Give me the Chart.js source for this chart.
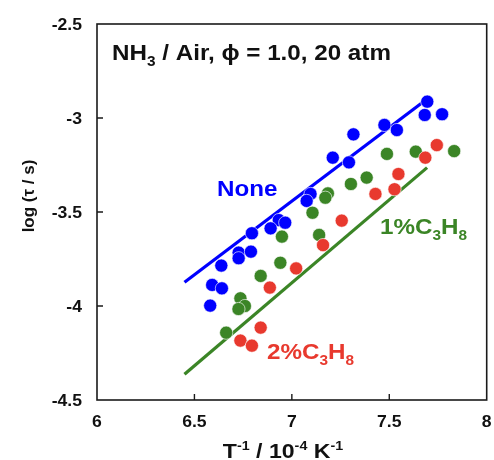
<!DOCTYPE html>
<html>
<head>
<meta charset="utf-8">
<script src="https://cdn.jsdelivr.net/npm/chart.js@4.4.1/dist/chart.umd.min.js"></script>
<style>
  html, body { margin: 0; padding: 0; background: #fff; }
  #c { display: block; }
</style>
</head>
<body>
<canvas id="c" width="494" height="460"></canvas>
<script>
// x = 1/T (10^-4 K^-1), y = log(tau / s)
var noneX = [7.695, 7.682, 7.771, 7.475, 7.539, 7.316, 7.210, 7.293, 7.096, 7.076, 6.933,
             6.966, 6.891, 6.795, 6.727, 6.727, 6.790, 6.638, 6.591, 6.641, 6.581];
var noneY = [-2.913, -2.984, -2.980, -3.037, -3.064, -3.087, -3.211, -3.236, -3.404, -3.441, -3.543,
             -3.557, -3.587, -3.613, -3.716, -3.746, -3.711, -3.785, -3.888, -3.906, -3.998];

var c3h8_1X = [7.833, 7.636, 7.488, 7.384, 7.303, 7.185, 7.172, 7.106, 7.140, 6.949, 6.941,
               6.840, 6.736, 6.759, 6.726, 6.663];
var c3h8_1Y = [-3.176, -3.179, -3.191, -3.317, -3.351, -3.401, -3.424, -3.504, -3.622, -3.631, -3.770,
               -3.840, -3.959, -4.000, -4.016, -4.142];

var c3h8_2X = [7.744, 7.685, 7.547, 7.527, 7.429, 7.256, 7.160, 7.022, 6.887, 6.840, 6.736, 6.795];
var c3h8_2Y = [-3.144, -3.211, -3.298, -3.379, -3.404, -3.546, -3.676, -3.800, -3.902, -4.115, -4.184, -4.211];

// fitted lines (end points)
var noneFitX = [6.449, 7.665];
var noneFitY = [-3.874, -2.922];
var fit1X = [6.449, 7.694];
var fit1Y = [-4.363, -3.264];

var xTicks = [6, 6.5, 7, 7.5, 8];
var yTicks = [-2.5, -3, -3.5, -4, -4.5];

var BLUE = '#0000ff';
var GREEN = '#3b8526';
var RED = '#e8392e';
var FONT = '"Liberation Sans", Arial, sans-serif';
var SX = 1.1; // horizontal stretch of the original lettering

function pts(xs, ys) {
  return xs.map(function (x, i) { return { x: x, y: ys[i] }; });
}

// text parts: [string, 'sub' | 'sup' | undefined]
function richWidth(ctx, parts, size) {
  var w = 0;
  parts.forEach(function (p) {
    var s = p[1] ? Math.round(size * 0.62) : size;
    ctx.font = 'bold ' + s + 'px ' + FONT;
    w += ctx.measureText(p[0]).width;
  });
  return w * SX;
}

function drawRich(ctx, parts, x, y, size, color, align) {
  var w = richWidth(ctx, parts, size);
  var x0 = align === 'center' ? x - w / 2 : (align === 'right' ? x - w : x);
  ctx.save();
  ctx.translate(x0, y);
  ctx.scale(SX, 1);
  ctx.fillStyle = color;
  ctx.textBaseline = 'alphabetic';
  ctx.textAlign = 'left';
  var cx = 0;
  parts.forEach(function (p) {
    var s = p[1] ? Math.round(size * 0.62) : size;
    var dy = p[1] === 'sub' ? size * 0.26 : (p[1] === 'sup' ? -size * 0.38 : 0);
    ctx.font = 'bold ' + s + 'px ' + FONT;
    ctx.fillText(p[0], cx, dy);
    cx += ctx.measureText(p[0]).width;
  });
  ctx.restore();
}

var framePlugin = {
  id: 'frame',
  afterDraw: function (chart) {
    var ctx = chart.ctx;
    var a = chart.chartArea;
    var xs = chart.scales.x;
    var ys = chart.scales.y;
    ctx.save();
    ctx.strokeStyle = '#1a1a1a';
    ctx.lineWidth = 1.6;
    ctx.strokeRect(a.left, a.top, a.right - a.left, a.bottom - a.top);
    ctx.lineWidth = 1.4;
    ctx.beginPath();
    xTicks.forEach(function (v) {
      if (v === xs.min || v === xs.max) return;
      var px = xs.getPixelForValue(v);
      ctx.moveTo(px, a.bottom);
      ctx.lineTo(px, a.bottom - 6);
    });
    yTicks.forEach(function (v) {
      if (v === ys.min || v === ys.max) return;
      var py = ys.getPixelForValue(v);
      ctx.moveTo(a.left, py);
      ctx.lineTo(a.left + 6, py);
    });
    ctx.stroke();
    ctx.restore();

    // tick labels
    xTicks.forEach(function (v) {
      drawRich(ctx, [[String(v)]], xs.getPixelForValue(v), 427, 16, '#111', 'center');
    });
    yTicks.forEach(function (v) {
      drawRich(ctx, [[String(v)]], 82, ys.getPixelForValue(v) + 6, 16, '#111', 'right');
    });

    // axis titles
    drawRich(ctx, [['T'], ['-1', 'sup'], [' / 10'], ['-4', 'sup'], [' K'], ['-1', 'sup']],
      283, 458, 21, '#111', 'center');
    ctx.save();
    ctx.translate(34, 196);
    ctx.rotate(-Math.PI / 2);
    ctx.fillStyle = '#111';
    ctx.font = 'bold 17px ' + FONT;
    ctx.textAlign = 'center';
    ctx.textBaseline = 'alphabetic';
    ctx.fillText('log (\u03c4 / s)', 0, 0);
    ctx.restore();

    // annotations
    drawRich(ctx, [['NH'], ['3', 'sub'], [' / Air, \u03d5 = 1.0, 20 atm']], 112, 60, 22, '#111', 'left');
    drawRich(ctx, [['None']], 217, 196, 22, BLUE, 'left');
    drawRich(ctx, [['1%C'], ['3', 'sub'], ['H'], ['8', 'sub']], 380, 234, 22, GREEN, 'left');
    drawRich(ctx, [['2%C'], ['3', 'sub'], ['H'], ['8', 'sub']], 267, 359, 22, RED, 'left');
  }
};

function dots(label, data, color) {
  return {
    type: 'scatter', label: label, data: data,
    backgroundColor: color, borderColor: 'rgba(255,255,255,0.9)', borderWidth: 0.7,
    pointRadius: 6.6, pointHoverRadius: 6.6
  };
}

function fit(label, data, color) {
  return {
    type: 'line', label: label, data: data,
    borderColor: color, borderWidth: 3.2, pointRadius: 0, fill: false, tension: 0
  };
}

new Chart(document.getElementById('c').getContext('2d'), {
  type: 'scatter',
  data: {
    datasets: [
      dots('2%C3H8', pts(c3h8_2X, c3h8_2Y), RED),
      dots('1%C3H8', pts(c3h8_1X, c3h8_1Y), GREEN),
      dots('None', pts(noneX, noneY), BLUE),
      fit('None fit', pts(noneFitX, noneFitY), BLUE),
      fit('1%C3H8 fit', pts(fit1X, fit1Y), GREEN)
    ]
  },
  options: {
    responsive: false,
    animation: false,
    devicePixelRatio: 1,
    layout: { padding: { left: 97, right: 2, top: 24, bottom: 60 } },
    plugins: { legend: { display: false }, tooltip: { enabled: false } },
    scales: {
      x: { type: 'linear', min: 6, max: 8, display: false },
      y: { type: 'linear', min: -4.5, max: -2.5, display: false }
    }
  },
  plugins: [framePlugin]
});
</script>
</body>
</html>
